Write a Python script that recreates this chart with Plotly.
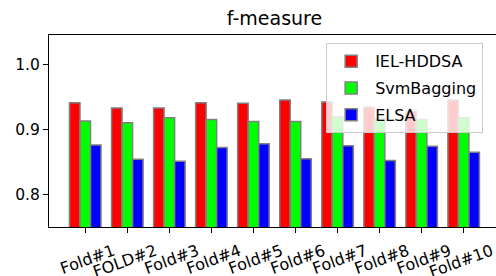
import plotly.graph_objects as go

categories = ["Fold#1", "FOLD#2", "Fold#3", "Fold#4", "Fold#5",
              "Fold#6", "Fold#7", "Fold#8", "Fold#9", "Fold#10"]
iel_hddsa = [0.941, 0.933, 0.933, 0.941, 0.940, 0.945, 0.942, 0.934, 0.928, 0.945]
svm_bagging = [0.913, 0.910, 0.918, 0.915, 0.912, 0.912, 0.919, 0.916, 0.915, 0.918]
elsa = [0.876, 0.854, 0.851, 0.872, 0.878, 0.855, 0.875, 0.852, 0.874, 0.865]
series_names = ["IEL-HDDSA", "SvmBagging", "ELSA"]
series_colors = ["#ff0000", "#00ff00", "#0000ff"]

FONT = "DejaVu Sans"
x_idx = list(range(len(categories)))

fig = go.Figure()
for name, vals, col in zip(series_names, [iel_hddsa, svm_bagging, elsa], series_colors):
    fig.add_trace(go.Bar(
        x=x_idx, y=vals, name=name, legendgroup=name,
        marker=dict(color=col, line=dict(color="#808080", width=1.5)),
    ))

fig.update_layout(
    width=496, height=276,
    margin=dict(l=49, r=0, t=35, b=49),
    paper_bgcolor="white", plot_bgcolor="white",
    barmode="group", bargap=0.25, bargroupgap=0,
    font=dict(family=FONT, size=15.5, color="black"),
    title=dict(text="f-measure", x=0.5045, xref="paper", xanchor="center",
               y=0.935, yref="container", yanchor="middle",
               font=dict(size=19, family=FONT, color="black")),
    legend=dict(x=0.62, y=0.957, xanchor="left", yanchor="top",
                bgcolor="rgba(255,255,255,0.8)", bordercolor="#cccccc", borderwidth=1,
                font=dict(size=16, family=FONT), tracegroupgap=3, itemwidth=38),
    showlegend=True,
)
fig.update_xaxes(
    range=[-0.8625, 9.769], tickmode="array", tickvals=x_idx, ticktext=categories,
    tickangle=-20, ticks="outside", ticklen=5, tickwidth=1, tickcolor="black",
    showline=True, linecolor="black", linewidth=1.2, mirror=True,
    showgrid=False, zeroline=False, ticklabelshift=28, ticklabelstandoff=3,
    tickfont=dict(size=16, family=FONT), automargin=False,
)
fig.update_yaxes(
    range=[0.75, 1.045], tickvals=[0.8, 0.9, 1.0], tickformat=".1f",
    ticks="outside", ticklen=5, tickwidth=1, tickcolor="black",
    showline=True, linecolor="black", linewidth=1.2, mirror=False,
    showgrid=False, zeroline=False, automargin=False,
)
fig.write_html("out.html", config={"displayModeBar": False},
               post_script="document.body.style.margin='0';document.body.style.overflow='hidden';")
